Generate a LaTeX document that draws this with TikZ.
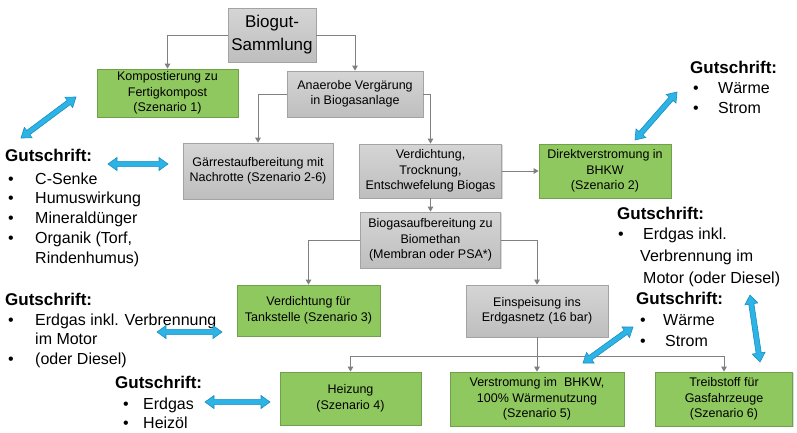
\documentclass[tikz,border=0pt]{standalone}
\usepackage{fontspec}
\setmainfont{Liberation Sans}
\usetikzlibrary{calc,arrows.meta,shadows}
\definecolor{boxgraytop}{HTML}{D5D5D5}
\definecolor{boxgraybot}{HTML}{BEBEBE}
\definecolor{boxgrayline}{HTML}{A3A3A3}
\definecolor{boxgreen}{HTML}{8FC85E}
\definecolor{boxgreenline}{HTML}{70A04B}
\definecolor{connc}{HTML}{808080}
\definecolor{arrfill}{HTML}{2DB4E6}
\definecolor{arrline}{HTML}{1C8DBF}
\newcommand\blarrow[2]{%
  \filldraw[blarr] (#1)
   -- ($(#1)!9pt!(#2)!6.5pt!90:(#2)$)
   -- ($(#1)!9pt!(#2)!2.6pt!90:(#2)$)
   -- ($(#2)!9pt!(#1)!2.6pt!-90:(#1)$)
   -- ($(#2)!9pt!(#1)!6.5pt!-90:(#1)$)
   -- (#2)
   -- ($(#2)!9pt!(#1)!6.5pt!90:(#1)$)
   -- ($(#2)!9pt!(#1)!2.6pt!90:(#1)$)
   -- ($(#1)!9pt!(#2)!2.6pt!-90:(#2)$)
   -- ($(#1)!9pt!(#2)!6.5pt!-90:(#2)$)
   -- cycle;}
\begin{document}
\begin{tikzpicture}[x=1pt,y=-1pt,
  boxbase/.style={draw, line width=0.7pt, inner sep=1pt, align=center,
    font=\fontsize{12.5}{15.5}\selectfont,
    drop shadow={shadow xshift=1.3pt, shadow yshift=-1.3pt, opacity=0.3}},
  graybox/.style={boxbase, top color=boxgraytop, bottom color=boxgraybot, draw=boxgrayline},
  greenbox/.style={boxbase, fill=boxgreen, draw=boxgreenline},
  conn/.style={draw=connc, line width=1pt, -{Triangle[length=5pt,width=5.5pt]}},
  blarr/.style={fill=arrfill, draw=arrline, line width=0.6pt, line join=miter},
  gt/.style={anchor=base west, inner sep=0pt, font=\bfseries\fontsize{17}{19}\selectfont},
  gi/.style={anchor=base west, inner sep=0pt, font=\fontsize{16}{19}\selectfont},
]
\useasboundingbox (0,0) rectangle (797,432);

% boxes
\node[graybox, minimum width=88pt, minimum height=54pt, font=\fontsize{17}{23}\selectfont] (biogut) at (272,35) {Biogut-\\Sammlung};
\node[greenbox, minimum width=141pt, minimum height=48pt] (kompost) at (167.5,93) {Kompostierung zu\\Fertigkompost\\(Szenario 1)};
\node[graybox, minimum width=136pt, minimum height=46pt] (anaerob) at (355,94) {Anaerobe Vergärung\\in Biogasanlage};
\node[graybox, minimum width=150pt, minimum height=56pt] (gaerrest) at (258,171) {Gärrestaufbereitung mit\\Nachrotte (Szenario 2-6)};
\node[graybox, minimum width=142pt, minimum height=54pt] (verdicht) at (430.5,171) {Verdichtung,\\Trocknung,\\Entschwefelung Biogas};
\node[greenbox, minimum width=132pt, minimum height=54pt] (direkt) at (605,171) {Direktverstromung in\\BHKW\\(Szenario 2)};
\node[graybox, minimum width=140pt, minimum height=56pt] (biogas) at (430.5,240) {Biogasaufbereitung zu\\Biomethan\\(Membran oder PSA*)};
\node[greenbox, minimum width=143pt, minimum height=51pt] (tank) at (308.5,310.5) {Verdichtung für\\Tankstelle (Szenario 3)};
\node[graybox, minimum width=142pt, minimum height=52pt] (einsp) at (537,311) {Einspeisung ins\\Erdgasnetz (16 bar)};
\node[greenbox, minimum width=141pt, minimum height=53pt] (heiz) at (350.5,398.5) {Heizung\\(Szenario 4)};
\node[greenbox, minimum width=174pt, minimum height=54pt] (verstrom) at (537,399) {Verstromung im\ \ BHKW,\\100\% Wärmenutzung\\(Szenario 5)};
\node[greenbox, minimum width=137pt, minimum height=54pt] (treib) at (724,399) {Treibstoff für\\Gasfahrzeuge\\(Szenario 6)};

% connectors
\draw[conn] (biogut.west) -| (kompost.north);
\draw[conn] (biogut.east) -| (anaerob.north);
\draw[conn] (anaerob.west) -| (gaerrest.north);
\draw[conn] (anaerob.east) -| (verdicht.north);
\draw[conn] (verdicht.east) -- (direkt.west);
\draw[conn] (verdicht.south) -- (biogas.north);
\draw[conn] (biogas.west) -| (tank.north);
\draw[conn] (biogas.east) -| (einsp.north);
\coordinate (bus) at (537,356);
\draw[conn] (einsp.south) -- (verstrom.north);
\draw[conn] (bus) -| (heiz.north);
\draw[conn] (bus) -| (treib.north);

% Gutschrift block 1
\node[gt] (g1) at (5,161) {Gutschrift:};
\node[gi] (g1b1) at (8,184) {\textbullet};
\node[gi] (g1t1) at (35,184) {C-Senke};
\node[gi] (g1b2) at (8,203) {\textbullet};
\node[gi] (g1t2) at (35,203) {Humuswirkung};
\node[gi] (g1b3) at (8,223) {\textbullet};
\node[gi] (g1t3) at (35,223) {Mineraldünger};
\node[gi] (g1b4) at (8,243) {\textbullet};
\node[gi] (g1t4) at (35,243) {Organik (Torf,};
\node[gi] (g1t5) at (35,263) {Rindenhumus)};

% Gutschrift block 2
\node[gt] (g2) at (690,73) {Gutschrift:};
\node[gi] (g2b1) at (693,93) {\textbullet};
\node[gi] (g2t1) at (718,93) {Wärme};
\node[gi] (g2b2) at (693,113) {\textbullet};
\node[gi] (g2t2) at (718,113) {Strom};

% Gutschrift block 3
\node[gt] (g3) at (617,219) {Gutschrift:};
\node[gi] (g3b1) at (618,239) {\textbullet};
\node[gi] (g3t1) at (643,239) {Erdgas inkl.};
\node[gi] (g3t2) at (640,261) {Verbrennung im};
\node[gi] (g3t3) at (643,283) {Motor (oder Diesel)};

% Gutschrift block 4
\node[gt] (g4) at (636,304) {Gutschrift:};
\node[gi] (g4b1) at (640,325) {\textbullet};
\node[gi] (g4t1) at (663,325) {Wärme};
\node[gi] (g4b2) at (640,346) {\textbullet};
\node[gi] (g4t2) at (665,346) {Strom};

% Gutschrift block 5
\node[gt] (g5) at (5,305) {Gutschrift:};
\node[gi] (g5b1) at (8,325) {\textbullet};
\node[gi] (g5t1) at (35,325) {Erdgas inkl. Verbrennung};
\node[gi] (g5t2) at (35,344) {im Motor};
\node[gi] (g5b2) at (8,364) {\textbullet};
\node[gi] (g5t3) at (35,364) {(oder Diesel)};

% Gutschrift block 6
\node[gt] (g6) at (115,388) {Gutschrift:};
\node[gi] (g6b1) at (123,409) {\textbullet};
\node[gi] (g6t1) at (143,409) {Erdgas};
\node[gi] (g6b2) at (123,428) {\textbullet};
\node[gi] (g6t2) at (143,428) {Heizöl};

% blue double arrows
\coordinate (a1s) at (21,138);  \coordinate (a1e) at (76,97);
\coordinate (a2s) at (108,164); \coordinate (a2e) at (168,164);
\coordinate (a3s) at (635,140); \coordinate (a3e) at (677,92);
\coordinate (a4s) at (157,332); \coordinate (a4e) at (222,332);
\coordinate (a5s) at (205,402); \coordinate (a5e) at (270,402);
\coordinate (a6s) at (583,363); \coordinate (a6e) at (633,327);
\coordinate (a7s) at (760,362); \coordinate (a7e) at (750,295);
\blarrow{a1s}{a1e}
\blarrow{a2s}{a2e}
\blarrow{a3s}{a3e}
\blarrow{a4s}{a4e}
\blarrow{a5s}{a5e}
\blarrow{a6s}{a6e}
\blarrow{a7s}{a7e}
\end{tikzpicture}
\end{document}
